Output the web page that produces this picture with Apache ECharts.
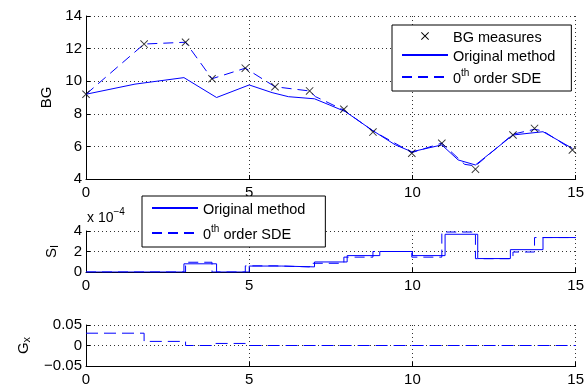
<!DOCTYPE html>
<html><head><meta charset="utf-8">
<script src="https://cdn.jsdelivr.net/npm/echarts@6/dist/echarts.min.js"></script>
<style>html,body{margin:0;padding:0;background:#fff}#c{width:587px;height:387px}</style>
</head><body><div id="c"></div>
<script>
// ---- data ----
const bgTimes  = [0, 1.78, 3.05, 3.86, 4.88, 5.79, 6.85, 7.9, 8.79, 9.98, 10.9, 11.93, 13.08, 13.74, 14.9];
const bgValues = [9.2, 12.28, 12.39, 10.15, 10.8, 9.66, 9.4, 8.28, 6.88, 5.58, 6.19, 4.6, 6.7, 7.1, 5.78];

const origTimes  = [0, 1.5, 3.0, 4.0, 5.0, 5.7, 6.2, 7.0, 7.45, 7.95, 8.76, 9.47, 9.98, 10.9, 11.4, 11.93, 13.08, 14.0, 14.9];
const origValues = [9.2, 9.82, 10.22, 9.0, 9.77, 9.3, 9.05, 8.92, 8.55, 8.13, 7.0, 6.1, 5.67, 6.09, 5.17, 4.86, 6.7, 6.9, 5.88];

const sdeTimes  = [0, 1.78, 3.05, 3.86, 4.88, 5.79, 6.85, 7.03, 7.3, 7.9, 8.79, 9.98, 10.9, 11.6, 11.93, 13.08, 13.74, 14.0, 14.9];
const sdeValues = [9.2, 12.28, 12.39, 10.15, 10.8, 9.66, 9.4, 9.05, 8.8, 8.22, 6.95, 5.62, 6.2, 4.9, 4.8, 6.75, 7.05, 6.95, 5.8];

// S_I (x 1e-4), value held from each time to the next
const siOrigTimes  = [0, 3, 4, 5, 6, 7, 8, 9, 10, 11, 12, 13, 14, 15];
const siOrigValues = [0, 0.8, 0, 0.58, 0.5, 0.98, 1.6, 2.0, 1.6, 3.68, 1.31, 2.18, 3.36, 3.36];
const siSdeTimes   = [0, 3.05, 3.86, 4.88, 5.79, 6.85, 7.9, 8.79, 9.98, 10.9, 11.93, 13.08, 13.74, 15];
const siSdeValues  = [0, 0.95, 0, 0.6, 0.5, 0.85, 1.45, 2.0, 1.45, 3.9, 1.3, 1.95, 3.36, 3.36];

// G_x, value held from each time to the next
const gxTimes  = [0, 1.78, 3.05, 3.86, 4.88, 15];
const gxValues = [0.03, 0.01, 0, 0.005, 0, 0];

// ---- chart ----
const zip = (a, b) => a.map((t, i) => [t, b[i]]);
const FONT = 'Liberation Sans';
const BLUE = '#0000ff';
const xShape = 'path://M0,0.8 L0.8,0 L10,9.2 L9.2,10 Z M9.2,0 L10,0.8 L0.8,10 L0,9.2 Z';

function xAxis(gi) {
  return {
    type: 'value', gridIndex: gi, min: 0, max: 15, interval: 5,
    axisLine: {onZero: false, lineStyle: {color: '#000', width: 1}},
    axisTick: {inside: true, length: 4, lineStyle: {color: '#000'}},
    axisLabel: {color: '#000', fontFamily: FONT, fontSize: 15, margin: 6},
    splitLine: {show: true, lineStyle: {color: '#333', type: [1, 3], width: 1}}
  };
}
function yAxis(gi, min, max, interval, name, gap, fmt) {
  return {
    type: 'value', gridIndex: gi, min, max, interval,
    name, nameLocation: 'middle', nameGap: gap, nameRotate: 90,
    nameTextStyle: {color: '#000', fontFamily: FONT, fontSize: 15,
      rich: {s: {fontSize: 15, fontFamily: FONT, color: '#000'},
             sub: {fontSize: 11, fontFamily: FONT, color: '#000', padding: [6, 0, 0, 0]}}},
    axisLine: {onZero: false, lineStyle: {color: '#000', width: 1}},
    axisTick: {inside: true, length: 4, lineStyle: {color: '#000'}},
    axisLabel: {color: '#000', fontFamily: FONT, fontSize: 15, margin: 4, formatter: fmt},
    splitLine: {show: true, lineStyle: {color: '#333', type: [1, 3], width: 1}}
  };
}
const supFmt = n => n === '0th order SDE' ? '{n|0}{sup|th}{n| order SDE}' : '{n|' + n + '}';
const legendRich = {
  n: {fontSize: 14.5, fontFamily: FONT, color: '#000', verticalAlign: 'bottom', lineHeight: 18},
  sup: {fontSize: 10, fontFamily: FONT, color: '#000', verticalAlign: 'top', lineHeight: 10}
};
const hideSym = {opacity: 0};
const showSym = {opacity: 1};

const chart = echarts.init(document.getElementById('c'), null, {renderer: 'canvas'});
chart.setOption({
  animation: false,
  backgroundColor: '#fff',
  grid: [
    {left: 86, right: 10, top: 16, height: 163},
    {left: 86, right: 10, top: 231, height: 41},
    {left: 86, right: 10, top: 325, height: 42}
  ],
  xAxis: [xAxis(0), xAxis(1), xAxis(2)],
  yAxis: [
    yAxis(0, 4, 14, 2, 'BG', 31, v => String(v)),
    yAxis(1, 0, 4, 2, '{s|S}{sub|I}', 26, v => String(v)),
    yAxis(2, -0.05, 0.05, 0.05, '{s|G}{sub|x}', 54, v => v === 0 ? '0' : String(v).replace('-', '\u2212'))
  ],
  legend: [
    {
      left: 392, top: 25, orient: 'vertical',
      padding: [5, 16, 5, 9], itemGap: 4, itemWidth: 46, itemHeight: 8,
      borderColor: '#000', borderWidth: 1, backgroundColor: '#fff',
      itemStyle: hideSym,
      data: [{name: 'BG measures', itemStyle: showSym}, 'Original method', '0th order SDE'],
      formatter: supFmt, textStyle: {rich: legendRich},
      selectedMode: false
    },
    {
      left: 142, top: 196, orient: 'vertical',
      padding: [6, 20, 5, 9], itemGap: 7, itemWidth: 46, itemHeight: 8,
      borderColor: '#000', borderWidth: 1, backgroundColor: '#fff',
      itemStyle: hideSym,
      data: ['Original method', '0th order SDE'],
      formatter: supFmt, textStyle: {rich: legendRich},
      selectedMode: false
    }
  ],
  graphic: [{
    type: 'text', left: 87, top: 207, z: 10,
    style: {text: '{a|x 10}{b|\u22124}',
      rich: {a: {fontSize: 14, fontFamily: FONT, fill: '#000', verticalAlign: 'bottom', lineHeight: 18},
             b: {fontSize: 10, fontFamily: FONT, fill: '#000', verticalAlign: 'top', lineHeight: 10}}}
  }],
  series: [
    {name: 'Original method', type: 'line', xAxisIndex: 0, yAxisIndex: 0, data: zip(origTimes, origValues),
     symbol: 'none', lineStyle: {color: BLUE, width: 1}, itemStyle: {color: BLUE}, z: 3},
    {name: '0th order SDE', type: 'line', xAxisIndex: 0, yAxisIndex: 0, data: zip(sdeTimes, sdeValues),
     symbol: 'none', lineStyle: {color: BLUE, width: 1, type: [10, 6]}, itemStyle: {color: BLUE}, z: 3},
    {name: 'BG measures', type: 'scatter', xAxisIndex: 0, yAxisIndex: 0, data: zip(bgTimes, bgValues),
     symbol: xShape, symbolSize: 8, itemStyle: {color: '#000'}, z: 4},
    {name: 'Original method', type: 'line', xAxisIndex: 1, yAxisIndex: 1, step: 'end', data: zip(siOrigTimes, siOrigValues),
     symbol: 'none', lineStyle: {color: BLUE, width: 1}, itemStyle: {color: BLUE}, z: 3},
    {name: '0th order SDE', type: 'line', xAxisIndex: 1, yAxisIndex: 1, step: 'end', data: zip(siSdeTimes, siSdeValues),
     symbol: 'none', lineStyle: {color: BLUE, width: 1, type: [10, 6]}, itemStyle: {color: BLUE}, z: 3},
    {name: '0th order SDE', type: 'line', xAxisIndex: 2, yAxisIndex: 2, step: 'end', data: zip(gxTimes, gxValues),
     symbol: 'none', lineStyle: {color: BLUE, width: 1, type: [12, 6]}, itemStyle: {color: BLUE}, z: 3}
  ]
});
</script>
</body></html>
